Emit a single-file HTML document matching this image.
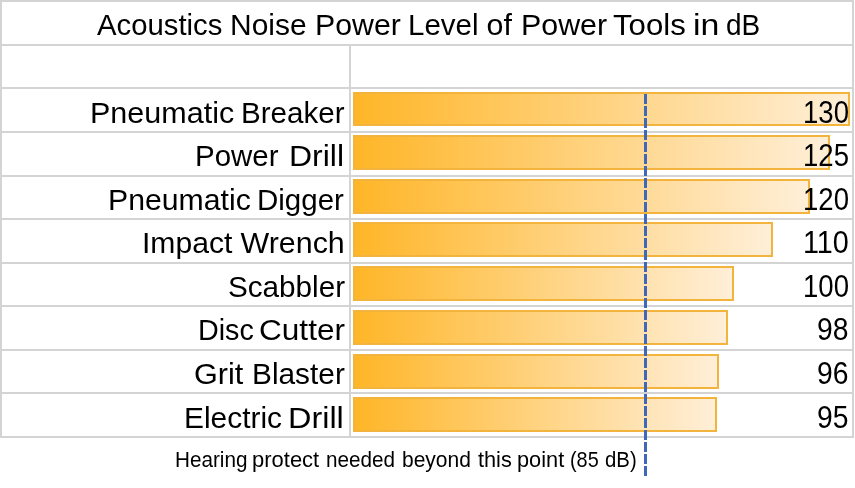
<!DOCTYPE html>
<html><head><meta charset="utf-8"><style>
html,body{margin:0;padding:0;background:#fff;}
body{width:855px;height:488px;position:relative;overflow:hidden;font-family:"Liberation Sans",sans-serif;color:#000;}
.h{position:absolute;left:0;width:854px;height:2px;background:#d4d4d4;}
.v{position:absolute;width:2px;background:#d4d4d4;}
.bar{position:absolute;left:353px;border:2px solid #f2b43c;background:linear-gradient(to right,#ffb628 0%,#ffefd8 100%);}
.t{position:absolute;white-space:nowrap;line-height:1;transform-origin:left top;filter:grayscale(1);}
.dash{position:absolute;left:644px;width:3px;height:10px;background:#4068b8;}
</style></head><body>
<div class="h" style="top:0px"></div>
<div class="h" style="top:44px"></div>
<div class="h" style="top:87px"></div>
<div class="h" style="top:131px"></div>
<div class="h" style="top:175px"></div>
<div class="h" style="top:218px"></div>
<div class="h" style="top:262px"></div>
<div class="h" style="top:305px"></div>
<div class="h" style="top:349px"></div>
<div class="h" style="top:392px"></div>
<div class="h" style="top:436px"></div>
<div class="v" style="left:0;top:0;height:438px"></div>
<div class="v" style="left:852px;top:0;height:438px"></div>
<div class="v" style="left:349px;top:44px;height:394px"></div>
<div class="bar" style="top:92px;width:493px;height:30px"></div>
<div class="bar" style="top:135px;width:473px;height:31px"></div>
<div class="bar" style="top:179px;width:453px;height:31px"></div>
<div class="bar" style="top:222px;width:416px;height:31px"></div>
<div class="bar" style="top:266px;width:377px;height:31px"></div>
<div class="bar" style="top:310px;width:371px;height:31px"></div>
<div class="bar" style="top:354px;width:362px;height:31px"></div>
<div class="bar" style="top:397px;width:360px;height:31px"></div>
<div class="dash" style="top:94px"></div>
<div class="dash" style="top:106px"></div>
<div class="dash" style="top:118px"></div>
<div class="dash" style="top:130px"></div>
<div class="dash" style="top:142px"></div>
<div class="dash" style="top:154px"></div>
<div class="dash" style="top:166px"></div>
<div class="dash" style="top:178px"></div>
<div class="dash" style="top:190px"></div>
<div class="dash" style="top:202px"></div>
<div class="dash" style="top:214px"></div>
<div class="dash" style="top:226px"></div>
<div class="dash" style="top:238px"></div>
<div class="dash" style="top:250px"></div>
<div class="dash" style="top:262px"></div>
<div class="dash" style="top:274px"></div>
<div class="dash" style="top:286px"></div>
<div class="dash" style="top:298px"></div>
<div class="dash" style="top:310px"></div>
<div class="dash" style="top:322px"></div>
<div class="dash" style="top:334px"></div>
<div class="dash" style="top:346px"></div>
<div class="dash" style="top:358px"></div>
<div class="dash" style="top:370px"></div>
<div class="dash" style="top:382px"></div>
<div class="dash" style="top:394px"></div>
<div class="dash" style="top:406px"></div>
<div class="dash" style="top:418px"></div>
<div class="dash" style="top:430px"></div>
<div class="dash" style="top:442px"></div>
<div class="dash" style="top:454px"></div>
<div class="dash" style="top:466px"></div>
<div class="t" style="left:96.50px;top:9.27px;font-size:30.40px;transform:scaleX(0.9636)">Acoustics</div>
<div class="t" style="left:229.53px;top:9.27px;font-size:30.40px;transform:scaleX(0.9865)">Noise</div>
<div class="t" style="left:314.81px;top:9.27px;font-size:30.40px;transform:scaleX(0.9964)">Power</div>
<div class="t" style="left:407.86px;top:9.27px;font-size:30.40px;transform:scaleX(0.9710)">Level</div>
<div class="t" style="left:486.50px;top:9.27px;font-size:30.40px;transform:scaleX(1.0000)">of</div>
<div class="t" style="left:521.00px;top:9.27px;font-size:30.40px;transform:scaleX(1.0000)">Power</div>
<div class="t" style="left:613.17px;top:9.27px;font-size:30.40px;transform:scaleX(1.0261)">Tools</div>
<div class="t" style="left:692.87px;top:9.27px;font-size:30.40px;transform:scaleX(1.1150)">in</div>
<div class="t" style="left:726.38px;top:9.27px;font-size:30.40px;transform:scaleX(0.9200)">dB</div>
<div class="t" style="left:89.69px;top:97.27px;font-size:30.40px;transform:scaleX(1.0043)">Pneumatic</div>
<div class="t" style="left:240.55px;top:97.27px;font-size:30.40px;transform:scaleX(0.9740)">Breaker</div>
<div class="t" style="left:194.56px;top:140.27px;font-size:30.40px;transform:scaleX(0.9702)">Power</div>
<div class="t" style="left:288.90px;top:140.27px;font-size:30.40px;transform:scaleX(1.0521)">Drill</div>
<div class="t" style="left:107.51px;top:184.27px;font-size:30.40px;transform:scaleX(0.9943)">Pneumatic</div>
<div class="t" style="left:257.46px;top:184.27px;font-size:30.40px;transform:scaleX(0.9701)">Digger</div>
<div class="t" style="left:141.63px;top:227.27px;font-size:30.40px;transform:scaleX(0.9909)">Impact</div>
<div class="t" style="left:240.60px;top:227.27px;font-size:30.40px;transform:scaleX(1.0000)">Wrench</div>
<div class="t" style="left:227.65px;top:271.27px;font-size:30.40px;transform:scaleX(0.9761)">Scabbler</div>
<div class="t" style="left:198.41px;top:314.27px;font-size:30.40px;transform:scaleX(0.9446)">Disc</div>
<div class="t" style="left:258.62px;top:314.27px;font-size:30.40px;transform:scaleX(1.0388)">Cutter</div>
<div class="t" style="left:193.59px;top:358.27px;font-size:30.40px;transform:scaleX(1.0064)">Grit</div>
<div class="t" style="left:251.54px;top:358.27px;font-size:30.40px;transform:scaleX(0.9815)">Blaster</div>
<div class="t" style="left:183.63px;top:402.27px;font-size:30.40px;transform:scaleX(0.9835)">Electric</div>
<div class="t" style="left:288.17px;top:402.27px;font-size:30.40px;transform:scaleX(1.0667)">Drill</div>
<div class="t" style="left:802.90px;top:97.81px;font-size:30.70px;transform:scaleX(0.8979)">130</div>
<div class="t" style="left:802.90px;top:140.81px;font-size:30.70px;transform:scaleX(0.8979)">125</div>
<div class="t" style="left:802.90px;top:184.81px;font-size:30.70px;transform:scaleX(0.8979)">120</div>
<div class="t" style="left:802.83px;top:227.81px;font-size:30.70px;transform:scaleX(0.9370)">110</div>
<div class="t" style="left:802.90px;top:271.81px;font-size:30.70px;transform:scaleX(0.8979)">100</div>
<div class="t" style="left:817.38px;top:314.81px;font-size:30.70px;transform:scaleX(0.9219)">98</div>
<div class="t" style="left:817.38px;top:358.81px;font-size:30.70px;transform:scaleX(0.9219)">96</div>
<div class="t" style="left:817.38px;top:402.81px;font-size:30.70px;transform:scaleX(0.9219)">95</div>
<div class="t" style="left:174.55px;top:448.75px;font-size:21.20px;transform:scaleX(0.9761)">Hearing</div>
<div class="t" style="left:252.26px;top:448.75px;font-size:21.20px;transform:scaleX(1.0375)">protect</div>
<div class="t" style="left:326.02px;top:448.75px;font-size:21.20px;transform:scaleX(0.9765)">needed</div>
<div class="t" style="left:402.41px;top:448.75px;font-size:21.20px;transform:scaleX(0.9910)">beyond</div>
<div class="t" style="left:477.60px;top:448.75px;font-size:21.20px;transform:scaleX(1.0250)">this</div>
<div class="t" style="left:516.97px;top:448.75px;font-size:21.20px;transform:scaleX(1.0267)">point</div>
<div class="t" style="left:570.26px;top:448.75px;font-size:21.20px;transform:scaleX(0.9379)">(85</div>
<div class="t" style="left:604.84px;top:448.75px;font-size:21.20px;transform:scaleX(0.9613)">dB)</div>
</body></html>
